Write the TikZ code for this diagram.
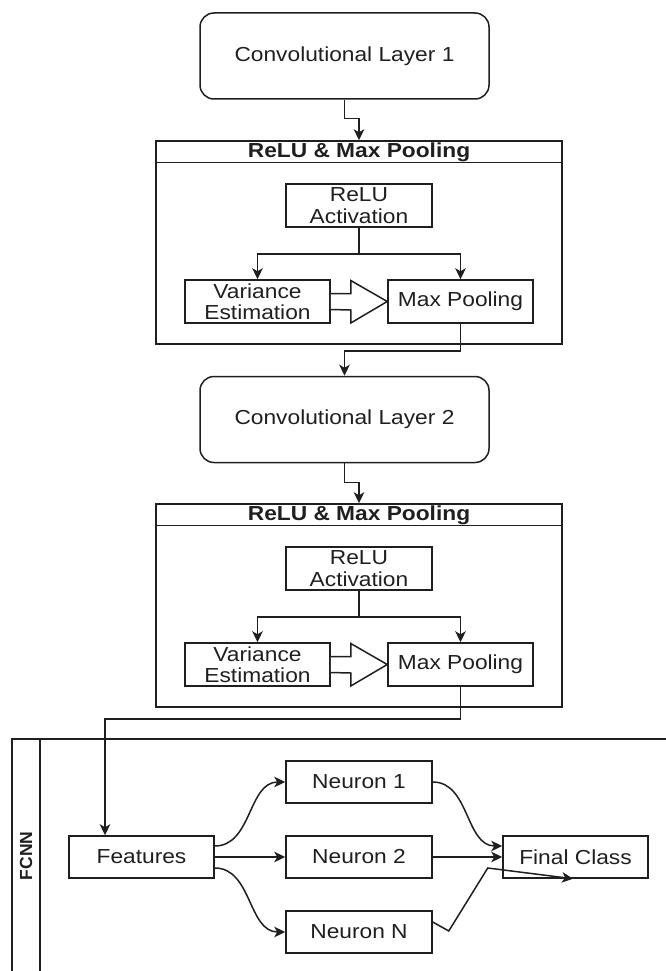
\documentclass[tikz,border=0pt]{standalone}
\usepackage{fontspec}
\setmainfont{Liberation Sans}[FakeStretch=1.12]
\newfontfamily\sidefont{Liberation Sans}
\usetikzlibrary{arrows.meta,calc}
\definecolor{ink}{gray}{0.12}

\begin{document}
\begin{tikzpicture}[x=1pt,y=-1pt,
  every node/.style={font=\fontsize{20.3}{21.5}\selectfont, text=ink},
  box/.style={draw=ink, line width=1.5pt, inner sep=0pt, align=center},
  layer/.style={box, rounded corners=14pt, minimum width=289pt, minimum height=86pt},
  unit/.style={box, minimum width=145pt, minimum height=43pt},
  panel/.style={draw=ink, line width=1.5pt, inner sep=0pt, minimum width=406pt, minimum height=203pt},
  heading/.style={font=\bfseries\fontsize{20.3}{21.5}\selectfont},
  wire/.style={draw=ink, line width=1.5pt},
  arr/.style={wire, -{Stealth[length=11pt,width=10.5pt,inset=3pt]}}
]
\useasboundingbox (0,0) rectangle (666,971);

% ---------- first convolution block ----------
\node[layer] (conv1) at (344.5,56) {Convolutional Layer 1};

\node[panel] (cont1) at (359,242.5) {};
\node[heading] (hdr1) at (359,152) {ReLU \& Max Pooling};
\draw[wire] ([yshift=-22pt]cont1.north west) -- ([yshift=-22pt]cont1.north east);

\node[unit, minimum width=146pt] (relu1) at (359,205.5) {ReLU\\Activation};
\node[unit] (var1) at (257.5,301.5) {Variance\\Estimation};
\node[unit] (max1) at (460.5,301.5) {Max Pooling};

\draw[arr] (conv1.south) -- ++(0,19) -| (cont1.north);
\draw[arr] (relu1.south) -- ++(0,26) -| (var1.north);
\draw[arr] (relu1.south) -- ++(0,26) -| (max1.north);
\draw[wire, fill=white] ($(var1.east)+(0,-8)$) -- ++(20,0) -- ++(0,-13) -- (max1.west)
  -- ($(var1.east)+(20,21.5)$) -- ++(0,-13) -- ($(var1.east)+(0,8)$);

% ---------- second convolution block ----------
\node[layer] (conv2) at (344.5,419.5) {Convolutional Layer 2};
\draw[arr] (max1.south) -- ++(0,27) -| (conv2.north);

\node[panel] (cont2) at (359,605.5) {};
\node[heading] (hdr2) at (359,515) {ReLU \& Max Pooling};
\draw[wire] ([yshift=-22pt]cont2.north west) -- ([yshift=-22pt]cont2.north east);

\node[unit, minimum width=146pt] (relu2) at (359,568.5) {ReLU\\Activation};
\node[unit] (var2) at (257.5,664.5) {Variance\\Estimation};
\node[unit] (max2) at (460.5,664.5) {Max Pooling};

\draw[arr] (conv2.south) -- ++(0,19) -| (cont2.north);
\draw[arr] (relu2.south) -- ++(0,26) -| (var2.north);
\draw[arr] (relu2.south) -- ++(0,26) -| (max2.north);
\draw[wire, fill=white] ($(var2.east)+(0,-8)$) -- ++(20,0) -- ++(0,-13) -- (max2.west)
  -- ($(var2.east)+(20,21.5)$) -- ++(0,-13) -- ($(var2.east)+(0,8)$);

% ---------- fully connected part ----------
\draw[draw=ink, line width=1.1pt] (666,739) -- (12,739) -- (12,971);
\draw[draw=ink, line width=1.1pt] (40,739) -- (40,971);
\node[rotate=90, font=\sidefont\bfseries\fontsize{17.5}{17.5}\selectfont] (fcnn) at (26,856) {FCNN};

\node[unit, minimum height=42pt] (feat) at (141.5,857) {Features};
\node[unit, minimum width=146pt, minimum height=42pt] (n1) at (359,782) {Neuron 1};
\node[unit, minimum width=146pt, minimum height=42pt] (n2) at (359,857) {Neuron 2};
\node[unit, minimum width=146pt, minimum height=42pt] (nN) at (359,932) {Neuron N};
\node[unit, minimum height=42pt] (fc) at (575.5,857) {Final Class};

\draw[arr] (max2.south) -- ++(0,32) -| ([xshift=-36.5pt]feat.north);

\draw[arr] ([yshift=11pt]feat.east) to[out=0, in=180] (n1.west);
\draw[arr] (feat.east) -- (n2.west);
\draw[arr] ([yshift=-11pt]feat.east) to[out=0, in=180] (nN.west);

\draw[arr] (n1.east) to[out=0, in=180] ([yshift=11pt]fc.west);
\draw[arr] (n2.east) -- (fc.west);
\draw[arr] ([yshift=10pt]nN.east) -- ++(16,9) -- ++(39,-63) -- ([xshift=-2.5pt]fc.south);
\end{tikzpicture}
\end{document}
